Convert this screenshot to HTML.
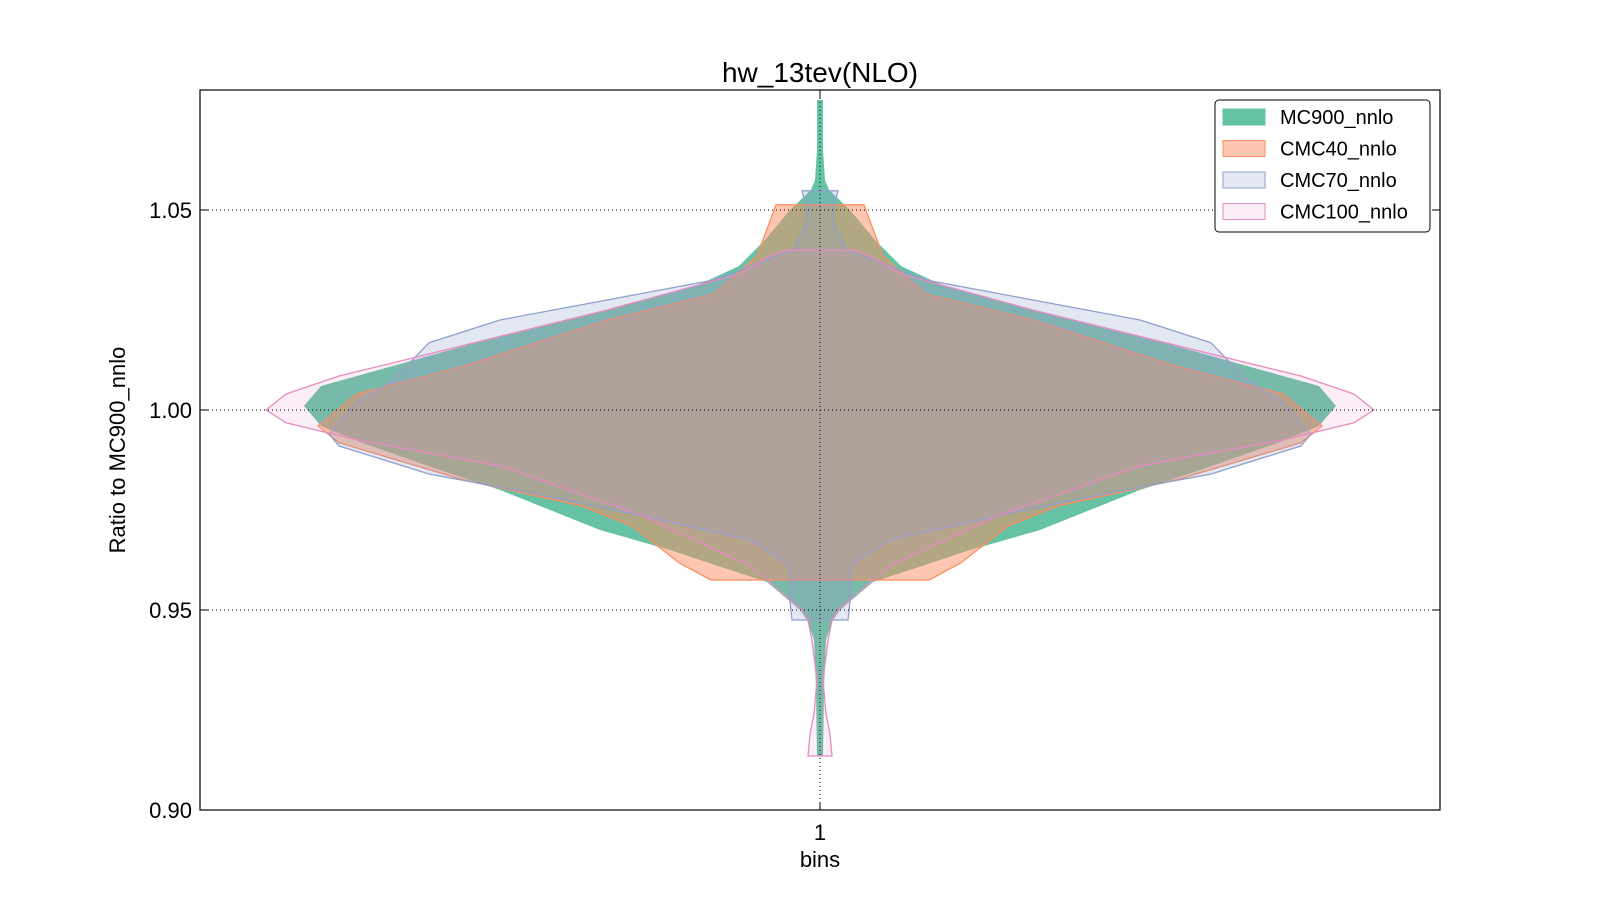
<!DOCTYPE html>
<html><head><meta charset="utf-8"><style>
html,body{margin:0;padding:0;background:#fff;}
svg{display:block;font-family:"Liberation Sans","DejaVu Sans",sans-serif;}
</style></head><body>
<svg id="chart" width="1600" height="900" viewBox="0 0 1600 900" xmlns="http://www.w3.org/2000/svg">
<rect x="0" y="0" width="1600" height="900" fill="#fff"/>
<text x="820" y="82" text-anchor="middle" font-size="28" fill="#000">hw_13tev(NLO)</text>
<g id="violins"></g>
<g id="grid"></g>
<rect x="200" y="90" width="1240" height="720" fill="none" stroke="#000" stroke-width="1.2"/>
<g id="yticks"></g>
<text x="820" y="840" text-anchor="middle" font-size="22">1</text>
<text x="820" y="867" text-anchor="middle" font-size="22">bins</text>
<text transform="translate(125,450) rotate(-90)" text-anchor="middle" font-size="22">Ratio to MC900_nnlo</text>
<g id="legend">
<rect x="1215" y="100" width="215" height="132" rx="4" fill="#fff" stroke="#000" stroke-width="1"/>
</g>
</svg>
<script>
const yTicks = [0.90, 0.95, 1.00, 1.05];
const yTickLabels = ["0.90", "0.95", "1.00", "1.05"];
const seriesNames = ["MC900_nnlo", "CMC40_nnlo", "CMC70_nnlo", "CMC100_nnlo"];
const mc900Values = [1.0775,1.065,1.0575,1.055,1.05,1.0425,1.036,1.031,1.025,1.0185,1.011,1.006,1.001,0.996,0.992,0.985,0.98,0.97,0.965,0.96,0.957,0.95,0.9475,0.9425,0.93,0.9135];
const mc900Widths = [0.0024,0.0024,0.004,0.0073,0.0242,0.0444,0.0653,0.1,0.1718,0.258,0.3444,0.4024,0.4161,0.4024,0.371,0.3065,0.258,0.1774,0.121,0.0726,0.0427,0.0161,0.0105,0.0048,0.0032,0.0024];
const cmc40Values = [1.0513,1.0385,1.029,1.0225,1.011,1.004,0.996,0.9918,0.9825,0.976,0.971,0.9618,0.9575];
const cmc40Widths = [0.0355,0.0508,0.0855,0.1718,0.2871,0.3734,0.4048,0.3879,0.2871,0.1919,0.1516,0.1137,0.0879];
const cmc70Values = [1.0548,1.05,1.0465,1.04,1.0325,1.0275,1.0225,1.0168,1.0075,1.0018,0.994,0.991,0.984,0.979,0.9735,0.9675,0.9618,0.959,0.952,0.9475];
const cmc70Widths = [0.0145,0.0105,0.0113,0.0218,0.0855,0.1718,0.258,0.3153,0.3444,0.3734,0.396,0.3879,0.3153,0.229,0.1427,0.0565,0.0274,0.0242,0.0242,0.0226];
const cmc100Values = [1.04,1.0385,1.034,1.025,1.014,1.0085,1.004,1.0,0.9968,0.9925,0.986,0.9735,0.961,0.9575,0.95,0.9475,0.9425,0.9325,0.924,0.919,0.9135];
const cmc100Widths = [0.029,0.0403,0.0653,0.1718,0.3153,0.3879,0.4306,0.4468,0.4306,0.3734,0.258,0.1427,0.0565,0.0427,0.0145,0.0097,0.0065,0.0024,0.0048,0.0081,0.0097];

const NS = "http://www.w3.org/2000/svg";
const X0 = 200, X1 = 1440, Y0 = 90, Y1 = 810;
const xMin = 0.5, xMax = 1.5, yMin = 0.90, yMax = 1.08;
function xScale(v){ return X0 + (v - xMin) / (xMax - xMin) * (X1 - X0); }
function yScale(v){ return Y1 - (v - yMin) / (yMax - yMin) * (Y1 - Y0); }
function wScale(w){ return w / (xMax - xMin) * (X1 - X0); }

const series = [
  {vals: mc900Values, w: mc900Widths, fill: "#66c2a5", fo: 1, stroke: "#66c2a5", so: 0, name: "violin-mc900"},
  {vals: cmc40Values, w: cmc40Widths, fill: "#fc8d62", fo: 0.5, stroke: "#fc8d62", so: 1, name: "violin-cmc40"},
  {vals: cmc70Values, w: cmc70Widths, fill: "#8da0cb", fo: 0.25, stroke: "#8da0cb", so: 1, name: "violin-cmc70"},
  {vals: cmc100Values, w: cmc100Widths, fill: "#e78ac3", fo: 0.15, stroke: "#e78ac3", so: 1, name: "violin-cmc100"}
];
const vg = document.getElementById("violins");
const cx = xScale(1);
series.forEach(s => {
  const right = s.vals.map((v,i) => [cx + wScale(s.w[i]), yScale(v)]);
  const left = s.vals.map((v,i) => [cx - wScale(s.w[i]), yScale(v)]).reverse();
  const pts = right.concat(left);
  const p = document.createElementNS(NS, "path");
  p.setAttribute("d", "M" + pts.map(q => q[0].toFixed(1) + "," + q[1].toFixed(1)).join("L") + "Z");
  p.setAttribute("fill", s.fill);
  p.setAttribute("fill-opacity", s.fo);
  p.setAttribute("stroke", s.stroke);
  p.setAttribute("stroke-opacity", s.so);
  p.setAttribute("stroke-width", "1.3");
  p.setAttribute("stroke-linejoin", "round");
  
  
  vg.appendChild(p);
});

const gg = document.getElementById("grid");
const ya = document.getElementById("yticks");
yTicks.forEach((t,i) => {
  const y = yScale(t);
  const l = document.createElementNS(NS, "line");
  l.setAttribute("x1", X0); l.setAttribute("x2", X1);
  l.setAttribute("y1", y); l.setAttribute("y2", y);
  l.setAttribute("stroke", "#000"); l.setAttribute("stroke-width", "1");
  l.setAttribute("stroke-dasharray", "1,3");
  
  
  gg.appendChild(l);
  const tk = document.createElementNS(NS, "path");
  tk.setAttribute("d", `M${X0},${y}h8M${X1},${y}h-8`);
  tk.setAttribute("stroke", "#000");
  
  
  ya.appendChild(tk);
  const tx = document.createElementNS(NS, "text");
  tx.setAttribute("x", X0 - 8); tx.setAttribute("y", y + 8);
  tx.setAttribute("text-anchor", "end"); tx.setAttribute("font-size", "22");
  tx.textContent = yTickLabels[i];
  
  
  ya.appendChild(tx);
});
const vl = document.createElementNS(NS, "line");
vl.setAttribute("x1", cx); vl.setAttribute("x2", cx);
vl.setAttribute("y1", Y0); vl.setAttribute("y2", Y1);
vl.setAttribute("stroke", "#000"); vl.setAttribute("stroke-dasharray", "1,3");


gg.appendChild(vl);
const xt = document.createElementNS(NS, "path");
xt.setAttribute("d", `M${cx},${Y1}v-8M${cx},${Y0}v8`);
xt.setAttribute("stroke", "#000");


gg.appendChild(xt);

const lg = document.getElementById("legend");
const patchFill = [["#66c2a5",1],["#fc8d62",0.5],["#8da0cb",0.25],["#e78ac3",0.15]];
seriesNames.forEach((n,i) => {
  const y = 117 + i * 31.5;
  const r = document.createElementNS(NS, "rect");
  r.setAttribute("x", 1223); r.setAttribute("y", y - 8);
  r.setAttribute("width", 42); r.setAttribute("height", 16);
  r.setAttribute("fill", patchFill[i][0]); r.setAttribute("fill-opacity", patchFill[i][1]);
  r.setAttribute("stroke", patchFill[i][0]);
  
  
  lg.appendChild(r);
  const t = document.createElementNS(NS, "text");
  t.setAttribute("x", 1280); t.setAttribute("y", y + 7);
  t.setAttribute("font-size", "20");
  t.textContent = n;
  
  
  lg.appendChild(t);
});
</script>
</body></html>
